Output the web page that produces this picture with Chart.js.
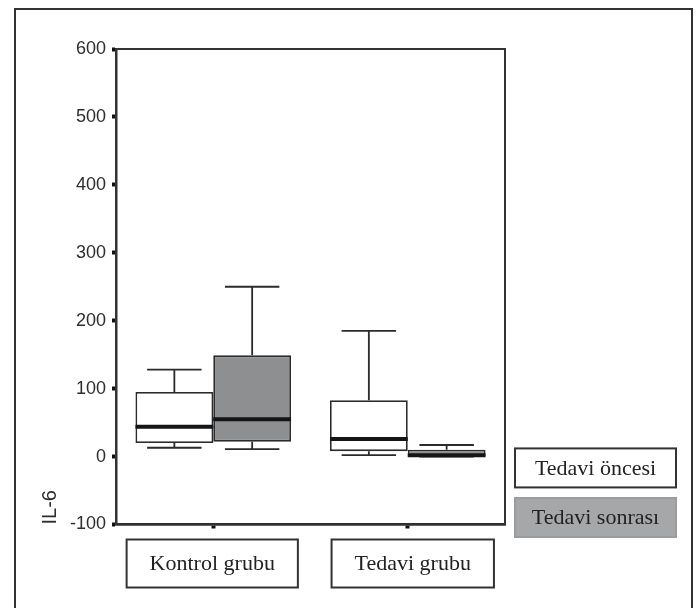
<!DOCTYPE html>
<html>
<head>
<meta charset="utf-8">
<script src="https://cdn.jsdelivr.net/npm/chart.js@4.4.1/dist/chart.umd.min.js"></script>
<style>
  html, body { margin: 0; padding: 0; background: #fff; }
  #wrap { width: 697px; height: 608px; position: relative; }
</style>
</head>
<body>
<div id="wrap"><canvas id="boxChart" width="697" height="608"></canvas></div>
<script>
// categories and series
const groups = ['Kontrol grubu', 'Tedavi grubu'];
const seriesNames = ['Tedavi öncesi', 'Tedavi sonrası'];

// IL-6 box plot stats (per group)
const onceMin = [13, 2];
const onceQ1 = [20, 8];
const onceMed = [44, 26];
const onceQ3 = [95, 83];
const onceMax = [128, 185];

const sonraMin = [11, 0];
const sonraQ1 = [22, 0];
const sonraMed = [55, 2];
const sonraQ3 = [149, 10];
const sonraMax = [250, 17];

// y axis ticks
const yTickValues = [-100, 0, 100, 200, 300, 400, 500, 600];

const seriesColors = ['#ffffff', '#8e8f91'];
const legendColors = ['#ffffff', '#a6a7a9'];

const stats = [
    { min: onceMin, q1: onceQ1, med: onceMed, q3: onceQ3, max: onceMax },
    { min: sonraMin, q1: sonraQ1, med: sonraMed, q3: sonraQ3, max: sonraMax }
];

// whiskers, medians, frames, legend boxes and category boxes
const boxPlugin = {
    id: 'boxExtras',
    beforeDraw(chart) {
        const ctx = chart.ctx;
        ctx.save();
        ctx.strokeStyle = '#333';
        ctx.lineWidth = 2;
        ctx.strokeRect(15, 9, 677, 700);
        ctx.restore();
    },
    afterDatasetsDraw(chart) {
        const { ctx, chartArea, scales: { x, y } } = chart;
        ctx.save();
        stats.forEach((s, i) => {
            const meta = chart.getDatasetMeta(i);
            meta.data.forEach((bar, j) => {
                const cx = bar.x, w = bar.width;
                const capW = w * 0.7;
                const pMin = y.getPixelForValue(s.min[j]);
                const pQ1 = y.getPixelForValue(s.q1[j]);
                const pQ3 = y.getPixelForValue(s.q3[j]);
                const pMax = y.getPixelForValue(s.max[j]);
                const pMed = y.getPixelForValue(s.med[j]);
                ctx.strokeStyle = '#2b2b2b';
                ctx.lineWidth = 1.8;
                ctx.beginPath();
                ctx.moveTo(cx, pQ3); ctx.lineTo(cx, pMax);
                ctx.moveTo(cx - capW / 2, pMax); ctx.lineTo(cx + capW / 2, pMax);
                ctx.moveTo(cx, pQ1); ctx.lineTo(cx, pMin);
                ctx.moveTo(cx - capW / 2, pMin); ctx.lineTo(cx + capW / 2, pMin);
                ctx.stroke();
                ctx.strokeStyle = '#151515';
                ctx.lineWidth = 4;
                ctx.beginPath();
                ctx.moveTo(cx - w / 2, pMed); ctx.lineTo(cx + w / 2, pMed);
                ctx.stroke();
            });
        });

        // plot frame
        ctx.strokeStyle = '#333';
        ctx.lineWidth = 2;
        ctx.strokeRect(chartArea.left, chartArea.top, chartArea.right - chartArea.left, chartArea.bottom - chartArea.top);

        // legend boxes (text inside)
        ctx.font = '22px "Liberation Serif", "Times New Roman", serif';
        ctx.textAlign = 'center';
        ctx.textBaseline = 'middle';
        const lx = chartArea.right + 10, lw = 161;
        const ly = [y.getPixelForValue(12), y.getPixelForValue(-61)];
        seriesNames.forEach((name, i) => {
            const top = ly[i], h = 39;
            ctx.fillStyle = legendColors[i];
            ctx.fillRect(lx, top, lw, h);
            ctx.strokeStyle = i === 0 ? '#333' : '#9c9c9c';
            ctx.lineWidth = 2;
            ctx.strokeRect(lx, top, lw, h);
            ctx.fillStyle = '#222';
            ctx.fillText(name, lx + lw / 2, top + h / 2 + 1);
        });

        // category label boxes (second one sits a little right of its tick, as in the original)
        const cTop = chartArea.bottom + 15, cH = 48;
        const boxShift = [-1, 5];
        groups.forEach((g, j) => {
            const cx = x.getPixelForTick(j) + boxShift[j];
            const tw = ctx.measureText(g).width;
            const bw = tw + 46;
            ctx.fillStyle = '#fff';
            ctx.fillRect(cx - bw / 2, cTop, bw, cH);
            ctx.strokeStyle = '#333';
            ctx.lineWidth = 2;
            ctx.strokeRect(cx - bw / 2, cTop, bw, cH);
            ctx.fillStyle = '#222';
            ctx.fillText(g, cx, cTop + cH / 2 + 1);
        });
        ctx.restore();
    }
};

const ctx = document.getElementById('boxChart').getContext('2d');
const myChart = new Chart(ctx, {
    type: 'bar',
    data: {
        labels: groups,
        datasets: seriesNames.map((name, i) => ({
            label: name,
            data: stats[i].q1.map((q1, j) => [q1, stats[i].q3[j]]),
            backgroundColor: seriesColors[i],
            borderColor: '#2b2b2b',
            borderWidth: 1.8,
            borderSkipped: false,
            categoryPercentage: 0.8,
            barPercentage: 1.0
        }))
    },
    options: {
        responsive: false,
        animation: false,
        layout: { padding: { top: 49, right: 192, bottom: 0, left: 0 } },
        plugins: { legend: { display: false }, tooltip: { enabled: false } },
        scales: {
            x: {
                grid: { display: true, drawOnChartArea: false, offset: false, drawTicks: true, tickLength: 4, tickWidth: 4, tickColor: '#111' },
                border: { display: true, color: '#2a2a2a', width: 2.5 },
                ticks: { display: false },
                afterFit: (scale) => { scale.height = 83.5; }
            },
            y: {
                min: yTickValues[0],
                max: yTickValues[yTickValues.length - 1],
                afterBuildTicks: (scale) => { scale.ticks = yTickValues.map(v => ({ value: v })); },
                grid: { display: true, drawOnChartArea: false, drawTicks: true, tickLength: 4, tickWidth: 4, tickColor: '#111' },
                border: { display: true, color: '#2a2a2a', width: 2.5 },
                ticks: {
                    color: '#2e2e2e',
                    padding: 6,
                    font: { family: '"Liberation Sans", Arial, sans-serif', size: 18 }
                },
                title: {
                    display: true,
                    text: 'IL-6',
                    align: 'start',
                    color: '#2e2e2e',
                    font: { family: '"Liberation Sans", Arial, sans-serif', size: 20 },
                    padding: { top: 38, bottom: 0 }
                },
                afterFit: (scale) => { scale.width = 116; }
            }
        }
    },
    plugins: [boxPlugin]
});
</script>
</body>
</html>
